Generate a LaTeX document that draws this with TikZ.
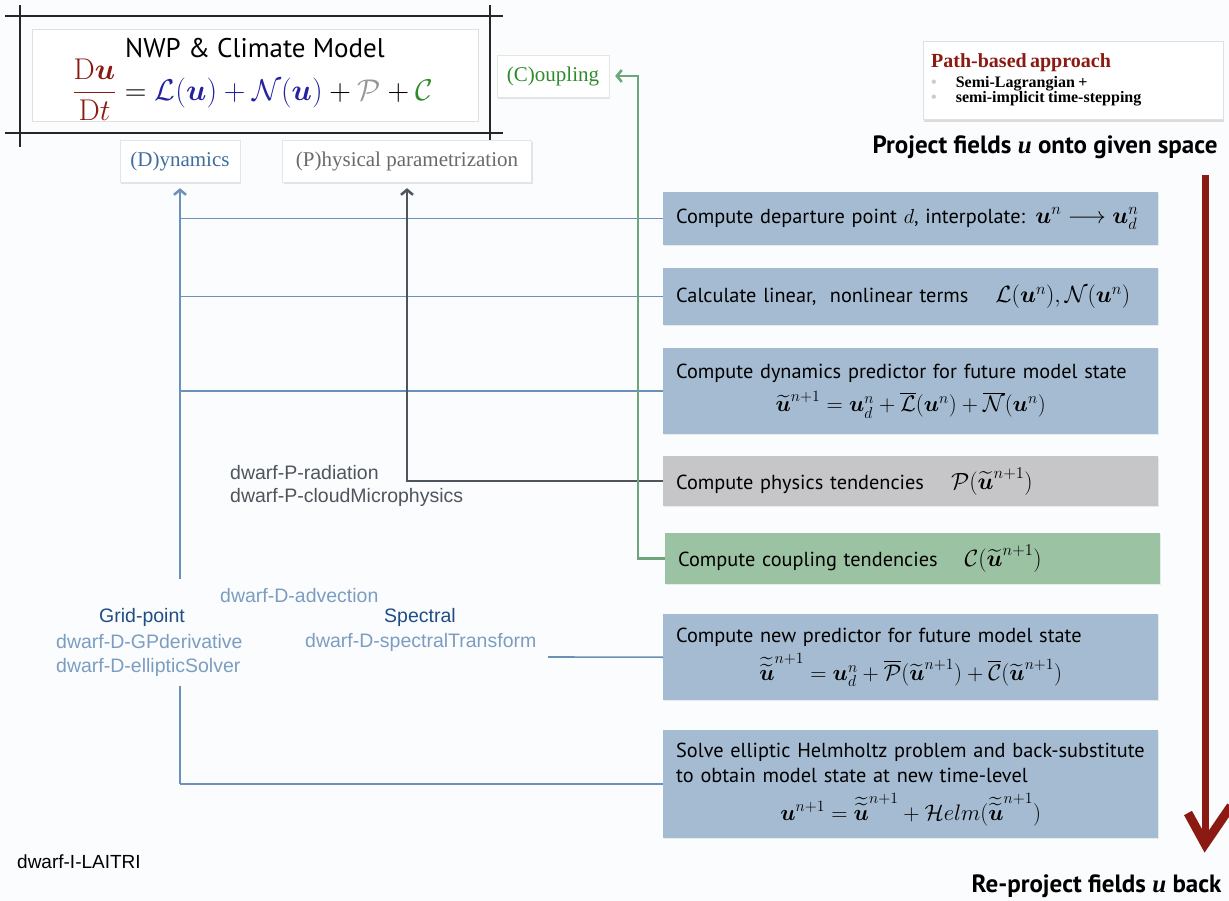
\documentclass[tikz,border=0pt]{standalone}
\usepackage{fix-cm}
\usepackage{amsmath,amssymb}
\usepackage{fontspec}
\usetikzlibrary{arrows.meta,shadows,calc}

\newfontfamily\gillfont{PT Sans}
\newfontfamily\arialfont{Liberation Sans}
\newfontfamily\timesfont{Liberation Serif}
\newcommand{\uvec}{\boldsymbol{u}}
\newcommand{\stepmath}[1]{{\fontsize{23.5}{26}\selectfont$#1$}}
\newcommand{\stepformula}[1]{\centerline{\fontsize{22.5}{26}\selectfont$#1$}}

\definecolor{pagebg}{HTML}{FBFCFD}
\definecolor{boxblue}{HTML}{A4BBD1}
\definecolor{boxgrey}{HTML}{C6C6C8}
\definecolor{boxgreen}{HTML}{9CC2A4}
\definecolor{dynblue}{HTML}{3F6E9E}
\definecolor{eqblue}{HTML}{2323A0}
\definecolor{physgrey}{HTML}{6A6A6A}
\definecolor{coupgreen}{HTML}{2E8B2E}
\definecolor{modelred}{HTML}{8B1A12}
\definecolor{lineblue}{HTML}{6C91B9}
\definecolor{linegrey}{HTML}{4F555C}
\definecolor{linegreen}{HTML}{6CA679}
\definecolor{dwarflight}{HTML}{7C9DC2}
\definecolor{gridblue}{HTML}{1F4E85}

\begin{document}
\begin{tikzpicture}[x=1pt,y=-1pt,
  stepbox/.style={rectangle, anchor=north west, minimum width=495pt, text width=469pt,
    inner xsep=13pt, align=left, font=\gillfont\fontsize{20.3}{25.5}\selectfont,
    drop shadow={opacity=0.15, shadow xshift=1pt, shadow yshift=-1pt}},
  tagbox/.style={rectangle, draw=black!10, fill=white, minimum height=42pt,
    font=\timesfont\fontsize{21}{24}\selectfont,
    drop shadow={opacity=0.2, shadow xshift=1pt, shadow yshift=-2pt}},
  frameline/.style={line width=1.6pt, black!85},
  dwarf/.style={font=\arialfont\fontsize{19.5}{22}\selectfont, inner sep=0pt},
  dynline/.style={lineblue, line width=1.6pt},
  tip/.style={-{Straight Barb[length=5pt,width=12pt]}, shorten >=6pt, line width=2.5pt}]

  \fill[pagebg] (0,0) rectangle (1229,901);
  \useasboundingbox (0,0) rectangle (1229,901);

  % model equation in its frame
  \node[draw=black!12, fill=white, anchor=north west, minimum width=446pt, minimum height=92pt] (model) at (32,29) {};
  \draw[frameline] (5,16) -- (503,16);
  \draw[frameline] (5,133) -- (503,133);
  \draw[frameline] (20,5) -- (20,147);
  \draw[frameline] (490,5) -- (490,147);
  \node[font=\gillfont\fontsize{27}{30}\selectfont] (title) at (255,48) {NWP \& Climate Model};
  \node[font=\fontsize{30}{34}\selectfont] (eqn) at (253,90)
    {$\displaystyle \textcolor{modelred}{\frac{\mathrm{D}\uvec}{\mathrm{D}t}}
      = \textcolor{eqblue}{\mathcal{L}(\uvec) + \mathcal{N}(\uvec)}
      + \textcolor{physgrey!70}{\mathcal{P}} + \textcolor{coupgreen}{\mathcal{C}}$};

  \node[tagbox, text=dynblue, minimum width=120pt] (dyn) at (180,161) {(D)ynamics};
  \node[tagbox, text=physgrey, minimum width=249pt] (phys) at (407,161) {(P)hysical parametrization};
  \node[tagbox, text=coupgreen, minimum width=112pt] (coup) at (553,76) {(C)oupling};

  % path-based note
  \node[draw=black!12, fill=white, anchor=north west, minimum width=300pt, minimum height=78pt,
    text width=284pt, inner xsep=8pt, align=left,
    drop shadow={opacity=0.25, shadow xshift=1pt, shadow yshift=-3pt}] (path) at (923,41)
    {{\timesfont\bfseries\fontsize{20}{21}\selectfont\color{modelred}Path-based approach}\\[1pt]
     {\timesfont\bfseries\fontsize{16}{18.5}\selectfont
      {\color{black!20}\textbullet}\hspace{19pt}Semi-Lagrangian +\\
      {\color{black!20}\textbullet}\hspace{19pt}semi-implicit time-stepping}};

  \node[anchor=east, font=\gillfont\bfseries\fontsize{25}{28}\selectfont] (proj) at (1221,147)
    {Project fields {\timesfont\itshape u} onto given space};
  \node[anchor=east, font=\gillfont\bfseries\fontsize{25}{28}\selectfont] (reproj) at (1225,886)
    {Re-project fields {\timesfont\itshape u} back};

  % time step
  \coordinate (rtop) at (1205,175);
  \coordinate (rbot) at (1205,844);
  \draw[modelred, line width=7pt] (rtop) -- ($(rbot)+(0,-6)$);
  \draw[modelred, line width=9pt, line join=miter] (1188,813) -- (rbot) -- (1231,806);

  \node[stepbox, fill=boxblue, minimum height=53pt] (depart) at (663,192)
    {\mbox{Compute departure point $d$, interpolate: \stepmath{\uvec^n \longrightarrow \uvec^n_d}}};
  \node[stepbox, fill=boxblue, minimum height=57pt] (terms) at (663,268)
    {\mbox{Calculate linear, \ nonlinear terms \quad \stepmath{\mathcal{L}(\uvec^n), \mathcal{N}(\uvec^n)}}};
  \node[stepbox, fill=boxblue, minimum height=86pt] (dynpred) at (663,348)
    {\mbox{Compute dynamics predictor for future model state}\par\vspace{8pt}
     \stepformula{\widetilde{\uvec}^{n+1} = \uvec^n_d + \overline{\mathcal{L}}(\uvec^n) + \overline{\mathcal{N}}(\uvec^n)}};
  \node[stepbox, fill=boxgrey, minimum height=50pt] (phystend) at (663,456)
    {\mbox{Compute physics tendencies \quad \stepmath{\mathcal{P}(\widetilde{\uvec}^{n+1})}}};
  \node[stepbox, fill=boxgreen, minimum height=51pt] (couptend) at (665,533)
    {\mbox{Compute coupling tendencies \quad \stepmath{\mathcal{C}(\widetilde{\uvec}^{n+1})}}};
  \node[stepbox, fill=boxblue, minimum height=86pt] (newpred) at (663,614)
    {\mbox{Compute new predictor for future model state}\par\vspace{6pt}
     \stepformula{\widetilde{\widetilde{\uvec}}^{n+1} = \uvec^n_d + \overline{\mathcal{P}}(\widetilde{\uvec}^{n+1}) + \overline{\mathcal{C}}(\widetilde{\uvec}^{n+1})}};
  \node[stepbox, fill=boxblue, minimum height=108pt] (helm) at (663,730)
    {\mbox{Solve elliptic Helmholtz problem and back-substitute}\par
     \mbox{to obtain model state at new time-level}\par\vspace{9pt}
     \stepformula{\uvec^{n+1} = \widetilde{\widetilde{\uvec}}^{n+1} + \mathcal{H}elm(\widetilde{\widetilde{\uvec}}^{n+1})}};

  % dwarfs
  \node[dwarf, anchor=west, text=linegrey] (prad) at (230,473) {dwarf-P-radiation};
  \node[dwarf, anchor=west, text=linegrey] (pcloud) at (230,497) {dwarf-P-cloudMicrophysics};
  \node[dwarf, anchor=west, text=dwarflight] (adv) at (220,596) {dwarf-D-advection};
  \node[dwarf, text=gridblue] (grid) at (142,617) {Grid-point};
  \node[dwarf, anchor=west, text=dwarflight] (gpder) at (56,642) {dwarf-D-GPderivative};
  \node[dwarf, anchor=west, text=dwarflight] (ellip) at (56,667) {dwarf-D-ellipticSolver};
  \node[dwarf, text=gridblue] (spec) at (420,617) {Spectral};
  \node[dwarf, anchor=west, text=dwarflight] (spectr) at (305,642) {dwarf-D-spectralTransform};
  \node[dwarf, anchor=west, font=\arialfont\fontsize{19}{22}\selectfont] (laitri) at (17,862) {dwarf-I-LAITRI};

  % connectors
  \coordinate (gtop) at (180,579);
  \coordinate (gbot) at (180,686);
  \coordinate (specend) at (548,657);
  \draw[dynline, tip] (gtop) -- (dyn.south);
  \draw[dynline] (gtop |- depart.west) -- (depart.west);
  \draw[dynline] (gtop |- terms.west) -- (terms.west);
  \draw[dynline] (gtop |- dynpred.west) -- (dynpred.west);
  \draw[dynline, line width=2.5pt] (gbot) -- (gbot |- helm.west);
  \draw[dynline] (gbot |- helm.west) -- (helm.west);
  \draw[dynline] (specend) -- (newpred.west);
  \draw[linegrey, line width=2.5pt, tip] (phystend.west) -| (phys.south);
  \draw[linegreen, line width=2pt, tip] (couptend.west) -- ++(-27,0) |- (coup.east);
\end{tikzpicture}
\end{document}
